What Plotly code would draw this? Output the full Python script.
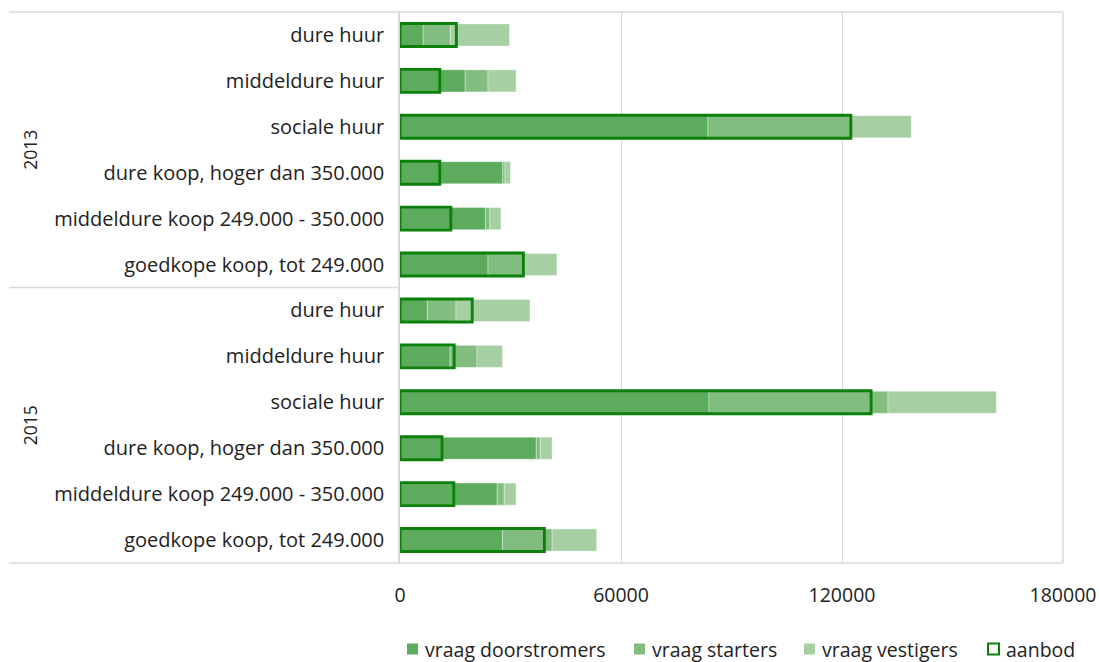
import plotly.graph_objects as go

# Woningmarkt: vraag per doelgroep en aanbod, per segment en jaar
years = ["2013", "2015"]
segments = [
    "dure huur",
    "middeldure huur",
    "sociale huur",
    "dure koop, hoger dan 350.000",
    "middeldure koop 249.000 - 350.000",
    "goedkope koop, tot 249.000",
]

doorstromers_2013 = [6300, 17700, 83600, 27900, 23200, 23900]
starters_2013 = [7350, 6200, 38800, 600, 1200, 9700]
vestigers_2013 = [16050, 7600, 16400, 1500, 3000, 9000]
aanbod_2013 = [15300, 10800, 122400, 10800, 13800, 33500]

doorstromers_2015 = [7400, 13600, 83900, 37000, 26400, 27800]
starters_2015 = [7800, 7300, 48600, 1100, 1900, 13500]
vestigers_2015 = [20100, 6900, 29400, 3200, 3200, 12100]
aanbod_2015 = [19600, 14700, 127900, 11400, 14600, 39200]

x_ticks = [0, 60000, 120000, 180000]
series_names = ["vraag doorstromers", "vraag starters", "vraag vestigers", "aanbod"]

doorstromers = doorstromers_2013 + doorstromers_2015
starters = starters_2013 + starters_2015
vestigers = vestigers_2013 + vestigers_2015
aanbod = aanbod_2013 + aanbod_2015
labels = segments + segments
pos = list(range(len(labels)))

base_starters = doorstromers
base_vestigers = [d + s for d, s in zip(doorstromers, starters)]

FONT = "Open Sans"
FS = 19.5
TXT = "#222222"
C_DOOR = "#5DAB5D"
C_START = "#80BD7E"
C_VEST = "#A6CFA3"
C_AANBOD = "#0B800B"
GRID = "#D9D9D9"
seg_line = dict(color="rgba(255,255,255,0.35)", width=1)

fig = go.Figure()
fig.add_trace(go.Bar(
    name=series_names[0], y=pos, x=doorstromers, orientation="h",
    marker=dict(color=C_DOOR, line=seg_line), width=0.48,
))
fig.add_trace(go.Bar(
    name=series_names[1], y=pos, x=starters, base=base_starters, orientation="h",
    marker=dict(color=C_START, line=seg_line), width=0.48,
))
fig.add_trace(go.Bar(
    name=series_names[2], y=pos, x=vestigers, base=base_vestigers, orientation="h",
    marker=dict(color=C_VEST, line=seg_line), width=0.48,
))
fig.add_trace(go.Bar(
    name=series_names[3], y=pos, x=aanbod, orientation="h",
    marker=dict(color="rgba(0,0,0,0)", line=dict(color=C_AANBOD, width=2.9)),
    width=0.5,
))

# plot geometry in pixels, used to place the frame lines and the legend row
PL, PR, PT, PB = 400, 1063, 12, 563
def px_x(px):
    return (px - PL) / (PR - PL)
def px_y(py):
    return (PB - py) / (PB - PT)

# plot area frame and category dividers
LEFT = px_x(9)
line_style = dict(color=GRID, width=1.5)
shapes = [
    dict(type="line", xref="paper", yref="paper", x0=LEFT, x1=1, y0=1, y1=1, line=line_style),
    dict(type="line", xref="paper", yref="paper", x0=LEFT, x1=1, y0=0, y1=0, line=line_style),
    dict(type="line", xref="paper", yref="paper", x0=LEFT, x1=0, y0=0.5, y1=0.5, line=line_style),
    dict(type="line", xref="paper", yref="paper", x0=1, x1=1, y0=0, y1=1, line=line_style),
]

annotations = []
for i, yr in enumerate(years):
    annotations.append(dict(
        text=yr, xref="paper", yref="paper", x=px_x(30), y=0.75 - 0.5 * i,
        showarrow=False, textangle=-90, xanchor="center", yanchor="middle",
        font=dict(family=FONT, size=17.5, color=TXT),
    ))

# legend row below the axis
legend_swatch_left = [407, 634, 804, 988]
legend_fills = [C_DOOR, C_START, C_VEST, "white"]
legend_lines = [None, None, None, C_AANBOD]
LEG_Y = 649
SW = 11
for name, left, fill, edge in zip(series_names, legend_swatch_left, legend_fills, legend_lines):
    shapes.append(dict(
        type="rect", xref="paper", yref="paper",
        x0=px_x(left), x1=px_x(left + SW),
        y0=px_y(LEG_Y + SW / 2), y1=px_y(LEG_Y - SW / 2),
        fillcolor=fill,
        line=dict(color=edge, width=2) if edge else dict(width=0),
    ))
    annotations.append(dict(
        text=name, xref="paper", yref="paper",
        x=px_x(left + SW + 5), y=px_y(LEG_Y),
        xanchor="left", yanchor="middle", showarrow=False,
        font=dict(family=FONT, size=FS, color=TXT),
    ))

fig.update_layout(
    width=1099, height=662,
    margin=dict(l=PL, r=1099 - PR, t=PT, b=662 - PB, autoexpand=False),
    barmode="overlay",
    plot_bgcolor="white", paper_bgcolor="white",
    font=dict(family=FONT, size=FS, color=TXT),
    shapes=shapes,
    annotations=annotations,
    showlegend=False,
    xaxis=dict(
        range=[0, 180000], tickvals=x_ticks, ticktext=[str(v) for v in x_ticks],
        showgrid=True, gridcolor=GRID, gridwidth=1,
        zeroline=False, showline=False, ticks="", automargin=False,
        ticklabelstandoff=18, tickfont=dict(family=FONT, size=FS),
    ),
    yaxis=dict(
        tickvals=pos, ticktext=labels, range=[11.5, -0.5],
        showgrid=False, zeroline=False, showline=True, linecolor=GRID, linewidth=1.5,
        ticks="", ticklabelstandoff=10, automargin=False,
        tickfont=dict(family=FONT, size=20),
    ),
)

fig.write_html("out.html")
